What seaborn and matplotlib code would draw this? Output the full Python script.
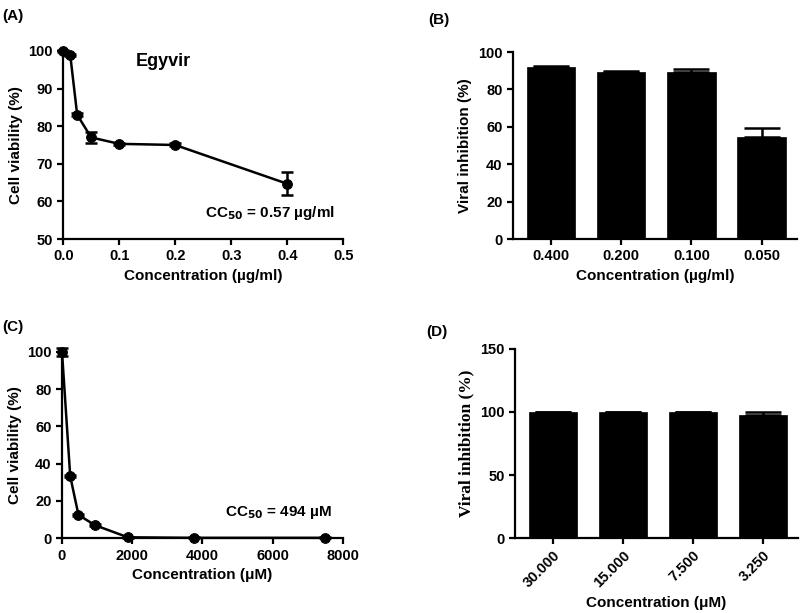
import numpy as np
import pandas as pd
import matplotlib
matplotlib.use("Agg")
import matplotlib.pyplot as plt
import seaborn as sns

# panel A: cell viability, Egyvir (ug/ml)
conc_a = [0.0, 0.0125, 0.025, 0.05, 0.1, 0.2, 0.4]
viab_a = [100.0, 99.0, 83.0, 77.0, 75.3, 75.0, 64.7]
err_a = [0.3, 0.3, 0.4, 1.5, 0.3, 0.4, 3.0]

# panel B: viral inhibition (ug/ml)
conc_b = ["0.400", "0.200", "0.100", "0.050"]
inhib_b = [92.0, 89.3, 89.6, 54.8]
err_b = [0.8, 0.8, 1.2, 4.5]

# panel C: cell viability (uM)
conc_c = [0, 234, 469, 938, 1875, 3750, 7500]
viab_c = [100.0, 33.3, 12.5, 7.0, 0.5, 0.2, 0.2]
err_c = [2.0, 0.5, 0.5, 0.4, 0.2, 0.2, 0.2]

# panel D: viral inhibition (uM)
conc_d = ["30.000", "15.000", "7.500", "3.250"]
inhib_d = [100.0, 100.0, 100.0, 97.3]
err_d = [0.0, 0.0, 0.0, 2.5]

sns.set_style("ticks")
plt.rcParams['font.family'] = ['Liberation Sans', 'DejaVu Sans']
plt.rcParams['font.weight'] = 'bold'
plt.rcParams['axes.labelweight'] = 'bold'
plt.rcParams['axes.linewidth'] = 1.6
plt.rcParams['xtick.major.width'] = 1.6
plt.rcParams['ytick.major.width'] = 1.6
plt.rcParams['xtick.major.size'] = 4
plt.rcParams['ytick.major.size'] = 4
plt.rcParams['xtick.color'] = 'black'
plt.rcParams['ytick.color'] = 'black'
plt.rcParams['axes.edgecolor'] = 'black'
plt.rcParams['text.color'] = 'black'
plt.rcParams['axes.labelcolor'] = 'black'

fig = plt.figure(figsize=(8, 6.13), dpi=100)
axA = fig.add_axes([0.079, 0.610, 0.350, 0.307])
axB = fig.add_axes([0.641, 0.610, 0.355, 0.305])
axC = fig.add_axes([0.0775, 0.122, 0.351, 0.304])
axD = fig.add_axes([0.644, 0.122, 0.353, 0.309])

tick_fs = 10.5
lab_fs = 11


def line_panel(ax, x, y, err):
    df = pd.DataFrame({"x": x, "y": y})
    sns.lineplot(data=df, x="x", y="y", ax=ax, color="black", lw=1.8,
                 marker="o", markersize=7, markeredgecolor="black", clip_on=False)
    ax.errorbar(x, y, yerr=err, fmt="none", ecolor="black", elinewidth=1.8,
                capsize=4, capthick=1.8, clip_on=False)
    sns.despine(ax=ax)
    ax.tick_params(labelsize=tick_fs)


def bar_panel(ax, cats, vals, err):
    df = pd.DataFrame({"c": cats, "v": vals})
    sns.barplot(data=df, x="c", y="v", ax=ax, color="black", width=0.69,
                saturation=1, errorbar=None, edgecolor="black", linewidth=0.5)
    pos = np.arange(len(cats))
    lower = np.zeros(len(cats))
    ax.errorbar(pos, vals, yerr=[lower, err], fmt="none", ecolor="black",
                elinewidth=1.8, capsize=13, capthick=1.8)
    sns.despine(ax=ax)
    ax.set_xlim(-0.54, 3.5)
    ax.tick_params(labelsize=tick_fs)


# (A)
line_panel(axA, conc_a, viab_a, err_a)
axA.set_xlim(0, 0.5)
axA.set_ylim(50, 100)
axA.set_xticks([0.0, 0.1, 0.2, 0.3, 0.4, 0.5])
axA.set_xticklabels(["0.0", "0.1", "0.2", "0.3", "0.4", "0.5"], fontweight="bold")
axA.set_yticks([50, 60, 70, 80, 90, 100])
axA.set_yticklabels(["50", "60", "70", "80", "90", "100"], fontweight="bold")
axA.set_xlabel("Concentration (µg/ml)", fontsize=lab_fs, fontweight="bold")
axA.set_ylabel("Cell viability (%)", fontsize=lab_fs, fontweight="bold")
axA.text(0.129, 97.3, "Egyvir", fontsize=13, fontweight="bold", va="center")
axA.text(0.254, 56.9, r"CC$_{\mathbf{50}}$ = 0.57 µg/ml", fontsize=11,
         fontweight="bold", va="center")

# (B)
bar_panel(axB, conc_b, inhib_b, err_b)
axB.set_ylim(0, 100)
axB.set_yticks([0, 20, 40, 60, 80, 100])
axB.set_yticklabels(["0", "20", "40", "60", "80", "100"], fontweight="bold")
axB.set_xticks(range(len(conc_b)))
axB.set_xticklabels(conc_b, fontweight="bold")
axB.set_xlabel("Concentration (µg/ml)", fontsize=lab_fs, fontweight="bold")
axB.set_ylabel("Viral inhibition (%)", fontsize=lab_fs, fontweight="bold")

# (C)
line_panel(axC, conc_c, viab_c, err_c)
axC.set_xlim(0, 8000)
axC.set_ylim(0, 100)
axC.set_xticks([0, 2000, 4000, 6000, 8000])
axC.set_xticklabels(["0", "2000", "4000", "6000", "8000"], fontweight="bold")
axC.set_yticks([0, 20, 40, 60, 80, 100])
axC.set_yticklabels(["0", "20", "40", "60", "80", "100"], fontweight="bold")
axC.set_xlabel("Concentration (μM)", fontsize=lab_fs, fontweight="bold")
axC.set_ylabel("Cell viability (%)", fontsize=lab_fs, fontweight="bold")
axC.text(4640, 14, r"CC$_{\mathbf{50}}$ = 494 µM", fontsize=11,
         fontweight="bold", va="center")

# (D)
bar_panel(axD, conc_d, inhib_d, err_d)
axD.set_ylim(0, 150)
axD.set_yticks([0, 50, 100, 150])
axD.set_yticklabels(["0", "50", "100", "150"], fontweight="bold")
axD.set_xticks(range(len(conc_d)))
axD.set_xticklabels(conc_d, fontweight="bold", rotation=45, ha="right",
                    rotation_mode="anchor")
axD.set_xlabel("Concentration (μM)", fontsize=lab_fs, fontweight="bold")
axD.set_ylabel("Viral inhibition (%)", fontsize=12.5, fontweight="bold",
               family=["Liberation Serif", "DejaVu Serif"])

# panel letters
fig.text(0.003, 0.985, "(A)", fontsize=11, fontweight="bold", va="top")
fig.text(0.535, 0.978, "(B)", fontsize=11, fontweight="bold", va="top")
fig.text(0.003, 0.478, "(C)", fontsize=11, fontweight="bold", va="top")
fig.text(0.533, 0.470, "(D)", fontsize=11, fontweight="bold", va="top")

fig.savefig("out.png", dpi=100)
